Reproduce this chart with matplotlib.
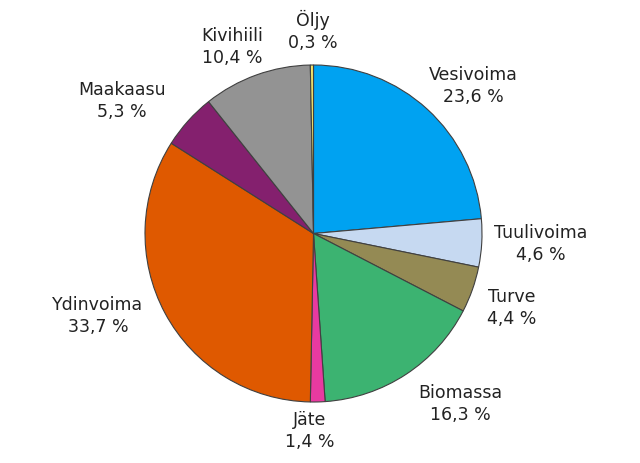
import matplotlib.pyplot as plt

# Energialähteet (%)
labels = ["Vesivoima", "Tuulivoima", "Turve", "Biomassa", "Jäte",
          "Ydinvoima", "Maakaasu", "Kivihiili", "Öljy"]
values = [23.6, 4.6, 4.4, 16.3, 1.4, 33.7, 5.3, 10.4, 0.3]
value_text = ["23,6 %", "4,6 %", "4,4 %", "16,3 %", "1,4 %",
              "33,7 %", "5,3 %", "10,4 %", "0,3 %"]

colors = ["#00a2f1", "#c6d9f1", "#948a54", "#3cb371", "#e83aa0",
          "#df5900", "#84206e", "#939393", "#f3e46c"]

# tekstien paikat (pikseleinä kuvan vasemmasta yläkulmasta)
label_pos = [(473, 86), (541, 244), (512, 308), (460, 404), (310, 431),
             (98, 316), (122, 101), (232, 47), (313, 31)]

fig = plt.figure(figsize=(6.4, 4.64), dpi=100)
ax = fig.add_axes([0, 0, 1, 1])

ax.pie(values, colors=colors, startangle=90, counterclock=False,
       center=(313.5, 464 - 234.5), radius=168.5,
       wedgeprops=dict(edgecolor="#404040", linewidth=0.8))

for name, txt, (x, y) in zip(labels, value_text, label_pos):
    ax.text(x, 464 - y, name + "\n" + txt, ha="center", va="center",
            fontsize=12.5, color="#222222", linespacing=1.3)

ax.set_xlim(0, 640)
ax.set_ylim(0, 464)
ax.set_aspect("equal")
ax.axis("off")

fig.savefig("out.png", dpi=100)
